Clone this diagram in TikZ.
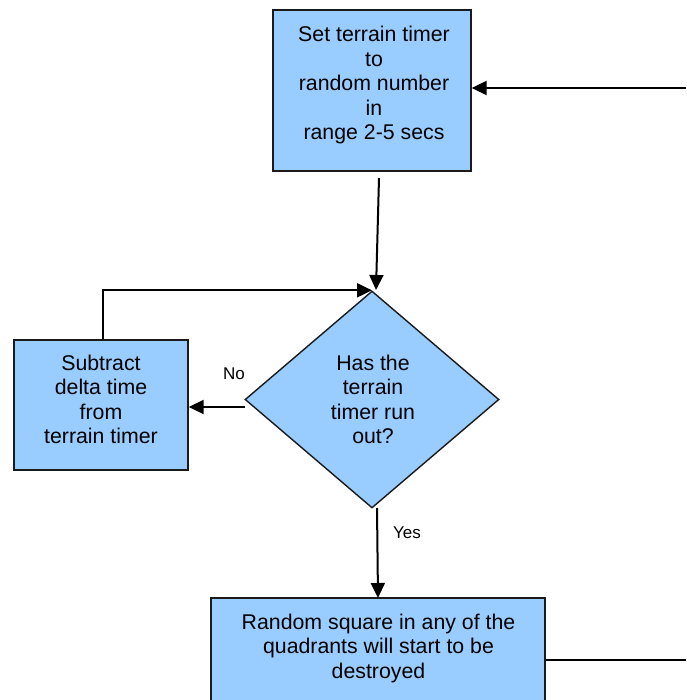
\documentclass[tikz,border=0pt]{standalone}
\usepackage{fontspec}
\setmainfont{Liberation Sans}
\usetikzlibrary{arrows.meta,shapes.geometric,calc}
\definecolor{boxblue}{HTML}{99CCFF}
\definecolor{edgegray}{HTML}{1A1A1A}
\begin{document}
\begin{tikzpicture}[x=1pt,y=-1pt,
  procbox/.style={draw=edgegray,line width=1.4pt,fill=boxblue,rectangle,inner sep=0pt},
  decbox/.style={draw=edgegray,line width=1.4pt,fill=boxblue,diamond,inner sep=0pt,
    minimum width=254pt,minimum height=217pt},
  boxtext/.style={align=center,inner sep=0pt,font=\fontsize{21.3}{24.5}\selectfont},
  smalltext/.style={inner sep=0pt,font=\fontsize{17}{20}\selectfont},
  flow/.style={draw=black,line width=2pt,-{Triangle[length=15pt,width=14pt]}},
  plain/.style={draw=black,line width=2pt}]
\useasboundingbox (0,0) rectangle (686,700);
\clip (0,0) rectangle (686,700);

% process boxes and decision
\node[procbox,minimum width=198pt,minimum height=161pt] (set) at (372,90.5) {};
\node[boxtext] (settext) at (374,85) {Set terrain timer\\to\\random number\\in\\ range 2-5 secs};

\node[decbox] (dec) at (372,399.5) {};
\node[boxtext] (dectext) at (373,399.5) {Has the\\terrain\\timer run\\out?};

\node[procbox,minimum width=174pt,minimum height=130pt] (sub) at (101,405) {};
\node[boxtext] (subtext) at (101,399.5) {Subtract\\delta time\\from\\terrain timer};

\node[procbox,minimum width=334pt,minimum height=124pt] (rnd) at (378,660) {};
\node[boxtext] (rndtext) at (378.5,648) {Random square in any of the\\quadrants will start to be\\destroyed};

% branch labels
\node[smalltext] (nolabel) at (234,374) {No};
\node[smalltext] (yeslabel) at (407,533) {Yes};

% connector end points
\coordinate (inR) at (686,88);
\coordinate (setout) at (379,178);
\coordinate (decin) at (376,290);
\coordinate (nostart) at (245,407);
\coordinate (yesstart) at (377,508);
\coordinate (rndin) at (378,598);
\coordinate (outR) at (686,660);

% connectors
\draw[flow] (inR) -- (inR -| set.east);
\draw[flow] (setout) -- (decin);
\draw[flow] (nostart) -- (nostart -| sub.east);
\draw[flow] ($(sub.north)+(2,0)$) |- (dec.north);
\draw[flow] (yesstart) -- (rndin);
\draw[plain] (rnd.east) -- (outR);
\end{tikzpicture}
\end{document}
